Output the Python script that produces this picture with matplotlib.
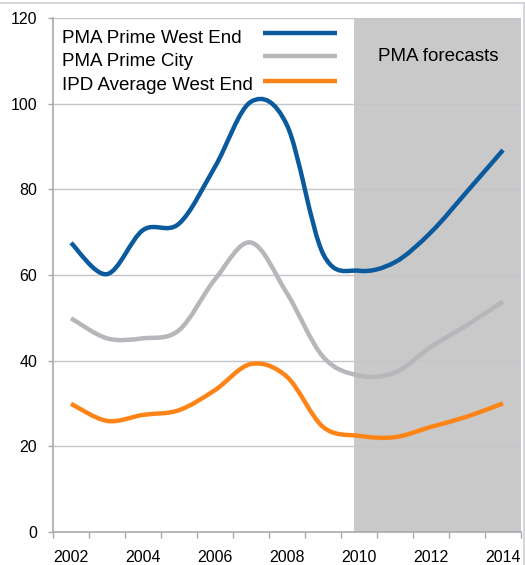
import matplotlib
matplotlib.use("Agg")
import matplotlib.pyplot as plt
from matplotlib.path import Path
from matplotlib.patches import PathPatch
import numpy as np

plt.rcParams['font.family'] = ['Liberation Sans', 'DejaVu Sans']

# data
years = [2002, 2003, 2004, 2005, 2006, 2007, 2008, 2009, 2010, 2011, 2012, 2013, 2014]
prime_west_end = [67.5, 60.2, 70.5, 72.0, 85.3, 100.5, 95.0, 65.0, 61.0, 63.0, 70.0, 79.5, 89.2]
prime_city = [49.9, 45.2, 45.2, 47.1, 59.0, 67.6, 55.7, 40.9, 36.5, 37.2, 43.2, 48.3, 53.8]
ipd_west_end = [29.9, 25.9, 27.3, 28.4, 33.1, 39.2, 36.2, 24.5, 22.4, 22.1, 24.5, 26.9, 30.0]
series_names = ["PMA Prime West End", "PMA Prime City", "IPD Average West End"]
colors = ["#0b5a9e", "#b6b6bb", "#ff8418"]
forecast_start = 2010
forecast_label = "PMA forecasts"

GRID = "#c4c4ca"
SPINE = "#a9a9ae"


def smooth_path(xs, ys):
    # Excel-style smoothed line: cubic bezier segments through every point
    pts = np.column_stack([xs, ys]).astype(float)
    n = len(pts)
    verts = [pts[0]]
    codes = [Path.MOVETO]
    for i in range(n - 1):
        p0 = pts[i - 1] if i > 0 else pts[i]
        p1 = pts[i]
        p2 = pts[i + 1]
        p3 = pts[i + 2] if i + 2 < n else pts[i + 1]
        c1 = p1 + (p2 - p0) / 6.0
        c2 = p2 - (p3 - p1) / 6.0
        verts += [c1, c2, p2]
        codes += [Path.CURVE4] * 3
    return Path(verts, codes)


fig = plt.figure(figsize=(5.25, 5.65), dpi=100)
ax = fig.add_axes([53 / 525, 1 - 531.7 / 565, 468 / 525, 513.4 / 565])

x = np.arange(len(years))
ax.set_xlim(-0.5, len(years) - 0.5)
ax.set_ylim(0, 120)

# forecast shading
fc_idx = years.index(forecast_start) - 0.14
ax.axvspan(fc_idx, len(years) - 0.5, color="#c9c9c9", zorder=0, lw=0)

for yv in range(20, 121, 20):
    ax.axhline(yv, color=GRID, lw=1, zorder=1)

for vals, c in zip([prime_west_end, prime_city, ipd_west_end], colors):
    patch = PathPatch(smooth_path(x, vals), facecolor="none", edgecolor=c,
                      lw=3.2, capstyle="butt", joinstyle="round", zorder=3)
    ax.add_patch(patch)

# axes styling
for s in ["top", "right"]:
    ax.spines[s].set_visible(False)
for s in ["left", "bottom"]:
    ax.spines[s].set_color(SPINE)
    ax.spines[s].set_linewidth(1.2)

ax.set_yticks(range(0, 121, 20))
ax.tick_params(axis="y", length=3.5, width=1, color=SPINE, pad=8, labelsize=11.5)
ax.set_xticks(x[::2])
ax.set_xticklabels([str(y) for y in years[::2]])
ax.set_xticks(np.arange(-0.5, len(years), 1), minor=True)
ax.tick_params(axis="x", which="major", length=0, pad=13, labelsize=11.5)
ax.tick_params(axis="x", which="minor", length=4, width=1, color=SPINE)


def ax_pos(px, py):
    return (px - 53) / 468, (531.7 - py) / 513.4


# manual legend: text left, line sample right
baselines = [42.7, 66.0, 89.5]
line_y = [33.3, 56.0, 81.0]
for name, c, b, ly in zip(series_names, colors, baselines, line_y):
    tx, ty = ax_pos(62, b)
    ax.text(tx, ty, name, transform=ax.transAxes, fontsize=13.5,
            ha="left", va="baseline", zorder=5)
    lx0, lyy = ax_pos(263, ly)
    lx1, _ = ax_pos(337, ly)
    ax.plot([lx0, lx1], [lyy, lyy], transform=ax.transAxes, color=c,
            lw=3.2, solid_capstyle="butt", zorder=5)

fx, fy = ax_pos(438, 61)
ax.text(fx, fy, forecast_label, transform=ax.transAxes, fontsize=13.5,
        ha="center", va="baseline", zorder=5)

# thin frame lines at top and right of the image
fig.add_artist(plt.Line2D([0, 1], [1 - 2.5 / 565] * 2, color="#d0d0d4", lw=1.2))
fig.add_artist(plt.Line2D([1 - 1.5 / 525] * 2, [0, 1 - 2.5 / 565], color="#d0d0d4", lw=1.2))

fig.savefig("out.png", dpi=100)
